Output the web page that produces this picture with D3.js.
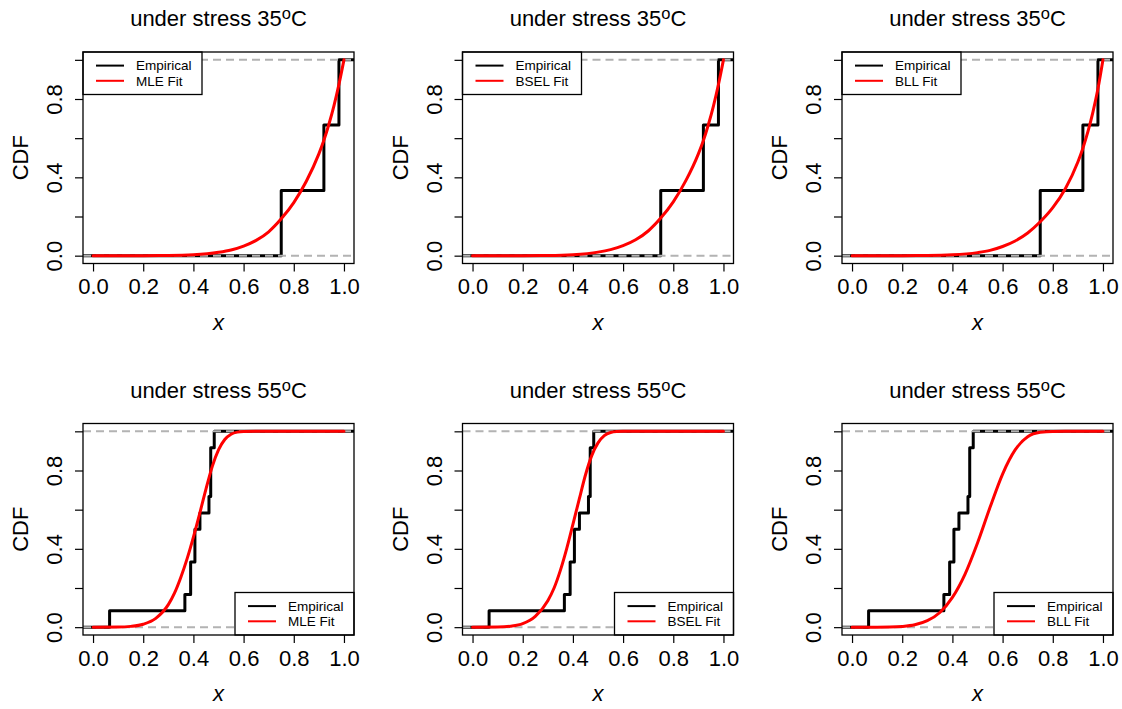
<!DOCTYPE html>
<html>
<head>
<meta charset="utf-8">
<script src="https://cdn.jsdelivr.net/npm/d3@7"></script>
<style>
  body { margin: 0; background: #fff; }
  text { font-family: "Liberation Sans", Arial, Helvetica, sans-serif; fill: #000; }
</style>
</head>
<body>
<svg id="chart" width="1122" height="709"></svg>
<script>
// ---- data -------------------------------------------------------------
const xTicks = [0, 0.2, 0.4, 0.6, 0.8, 1.0];
const xTickLabels = ["0.0", "0.2", "0.4", "0.6", "0.8", "1.0"];
const yTicks = [0, 0.2, 0.4, 0.6, 0.8, 1.0];
const yTickLabels = ["0.0", "", "0.4", "", "0.8", ""];

const stressLevels = ["35", "55"];
const methods = ["MLE", "BSEL", "BLL"];

// observed (scaled) failure times at each stress level
const failures35 = [0.75, 0.92, 0.98];
const failures55 = [0.066, 0.366, 0.389, 0.389, 0.406, 0.406, 0.426, 0.462, 0.469, 0.469, 0.469, 0.483];

// fitted CDF curves, 35 degrees
const gridX35 = [0, 0.1, 0.2, 0.3, 0.4, 0.5, 0.55, 0.6, 0.65, 0.7, 0.75, 0.8, 0.85, 0.9, 0.92, 0.94, 0.96, 0.98, 1.0];
const fitMLE35  = [0, 0, 0.0001, 0.0008, 0.0045, 0.017, 0.029, 0.049, 0.078, 0.122, 0.188, 0.271, 0.38, 0.52, 0.589, 0.671, 0.765, 0.875, 1.0];
const fitBSEL35 = [0, 0, 0.0001, 0.0009, 0.005, 0.018, 0.031, 0.051, 0.081, 0.126, 0.192, 0.275, 0.383, 0.52, 0.588, 0.67, 0.764, 0.874, 1.0];
const fitBLL35  = [0, 0, 0.0001, 0.0007, 0.0041, 0.0156, 0.027, 0.0467, 0.075, 0.116, 0.173, 0.245, 0.342, 0.478, 0.549, 0.633, 0.733, 0.852, 1.0];

// fitted CDF curves, 55 degrees
const gridX55 = [0, 0.1, 0.15, 0.2, 0.25, 0.3, 0.325, 0.35, 0.375, 0.4, 0.425, 0.45, 0.475, 0.5, 0.525, 0.55, 0.575, 0.6, 0.65, 0.7, 0.75, 0.8, 0.85, 0.9, 1.0];
const fitMLE55  = [0, 0.0005, 0.004, 0.015, 0.045, 0.115, 0.175, 0.255, 0.35, 0.46, 0.58, 0.705, 0.82, 0.905, 0.958, 0.985, 0.996, 0.999, 1, 1, 1, 1, 1, 1, 1];
const fitBSEL55 = [0, 0.0006, 0.005, 0.018, 0.055, 0.135, 0.2, 0.29, 0.4, 0.525, 0.652, 0.777, 0.876, 0.941, 0.978, 0.994, 0.999, 1, 1, 1, 1, 1, 1, 1, 1];
const gridXBLL55 = [0, 0.1, 0.15, 0.2, 0.25, 0.3, 0.35, 0.4, 0.45, 0.5, 0.55, 0.6, 0.65, 0.7, 0.75, 0.8, 0.85, 0.9, 1.0];
const fitBLL55  = [0, 0.0001, 0.0007, 0.0035, 0.012, 0.033, 0.075, 0.152, 0.27, 0.43, 0.612, 0.782, 0.905, 0.972, 0.995, 0.9997, 1, 1, 1];

// ---- layout -----------------------------------------------------------
const colLeft = [83, 462.5, 842];
const rowTop = [52, 423.5];
const boxW = 271, boxH = 211.5;
const pad = 0.04;
const bigFont = 22;

const panels = [
  { row: 0, col: 0, obs: failures35, fx: gridX35, fy: fitMLE35,  method: methods[0], legend: "topleft" },
  { row: 0, col: 1, obs: failures35, fx: gridX35, fy: fitBSEL35, method: methods[1], legend: "topleft" },
  { row: 0, col: 2, obs: failures35, fx: gridX35, fy: fitBLL35,  method: methods[2], legend: "topleft" },
  { row: 1, col: 0, obs: failures55, fx: gridX55, fy: fitMLE55,  method: methods[0], legend: "bottomright" },
  { row: 1, col: 1, obs: failures55, fx: gridX55, fy: fitBSEL55, method: methods[1], legend: "bottomright" },
  { row: 1, col: 2, obs: failures55, fx: gridXBLL55, fy: fitBLL55, method: methods[2], legend: "bottomright" }
];

const svg = d3.select("#chart");
svg.append("rect").attr("width", 1122).attr("height", 709).attr("fill", "#fff");

panels.forEach((p, idx) => {
  const left = colLeft[p.col], top = rowTop[p.row];
  const x = d3.scaleLinear().domain([-pad, 1 + pad]).range([left, left + boxW]);
  const y = d3.scaleLinear().domain([-pad, 1 + pad]).range([top + boxH, top]);
  const g = svg.append("g");

  const clipId = "clip" + idx;
  g.append("clipPath").attr("id", clipId)
    .append("rect").attr("x", left).attr("y", top).attr("width", boxW).attr("height", boxH);
  const plot = g.append("g").attr("clip-path", `url(#${clipId})`);

  // empirical CDF as a right-continuous step function
  const sorted = p.obs.slice().sort(d3.ascending);
  const n = sorted.length;
  const uniq = Array.from(new Set(sorted));
  const steps = [[-0.2, 0]].concat(uniq.map(v => [v, d3.bisectRight(sorted, v) / n])).concat([[1.2, 1]]);
  const stepLine = d3.line().x(d => x(d[0])).y(d => y(d[1])).curve(d3.curveStepAfter);
  plot.append("path").attr("d", stepLine(steps))
    .attr("fill", "none").attr("stroke", "#000").attr("stroke-width", 3)
    .attr("stroke-linejoin", "round").attr("stroke-linecap", "round");

  // reference lines at 0 and 1
  [0, 1].forEach(h => {
    plot.append("line")
      .attr("x1", left).attr("x2", left + boxW)
      .attr("y1", y(h)).attr("y2", y(h))
      .attr("stroke", "#b3b3b3").attr("stroke-width", 2)
      .attr("stroke-dasharray", "8,5");
  });

  // fitted CDF
  const fitPts = p.fx.map((v, i) => [v, p.fy[i]]);
  const fitLine = d3.line().x(d => x(d[0])).y(d => y(d[1])).curve(d3.curveMonotoneX);
  plot.append("path").attr("d", fitLine(fitPts))
    .attr("fill", "none").attr("stroke", "#ff0000").attr("stroke-width", 3)
    .attr("stroke-linecap", "round");

  // legend
  const lgW = 119, lgH = 42.5;
  const lgX = p.legend === "topleft" ? left : left + boxW - lgW;
  const lgY = p.legend === "topleft" ? top : top + boxH - lgH;
  const lg = g.append("g").attr("transform", `translate(${lgX},${lgY})`);
  lg.append("rect").attr("width", lgW).attr("height", lgH)
    .attr("fill", "#fff").attr("stroke", "#000").attr("stroke-width", 1.3);
  const entries = [
    { label: "Empirical", color: "#000" },
    { label: p.method + " Fit", color: "#ff0000" }
  ];
  entries.forEach((e, i) => {
    const ly = 13.6 + i * 15.2;
    lg.append("line").attr("x1", 13).attr("x2", 41).attr("y1", ly).attr("y2", ly)
      .attr("stroke", e.color).attr("stroke-width", 2);
    lg.append("text").attr("x", 53).attr("y", ly).attr("dy", "0.35em")
      .attr("font-size", 13.5).text(e.label);
  });

  // plot frame
  g.append("rect").attr("x", left).attr("y", top).attr("width", boxW).attr("height", boxH)
    .attr("fill", "none").attr("stroke", "#000").attr("stroke-width", 1.3);

  // x axis
  const xAxis = d3.axisBottom(x).tickValues(xTicks)
    .tickFormat((d, i) => xTickLabels[i]).tickSize(8).tickPadding(7);
  const gx = g.append("g").attr("transform", `translate(0,${top + boxH})`).call(xAxis);
  gx.select(".domain").remove();
  gx.selectAll("line").attr("stroke", "#000").attr("stroke-width", 1.2);
  gx.selectAll("text").attr("font-size", bigFont).attr("font-family", null);

  // y axis (labels rotated, as in base graphics)
  const yAxis = d3.axisLeft(y).tickValues(yTicks)
    .tickFormat((d, i) => yTickLabels[i]).tickSize(8);
  const gy = g.append("g").attr("transform", `translate(${left},0)`).call(yAxis);
  gy.select(".domain").remove();
  gy.selectAll("line").attr("stroke", "#000").attr("stroke-width", 1.2);
  gy.selectAll("text")
    .attr("x", null).attr("dy", null)
    .attr("font-size", bigFont).attr("font-family", null)
    .attr("text-anchor", "middle")
    .attr("transform", "translate(-21,0) rotate(-90)");

  // titles and axis labels
  const cx = left + boxW / 2;
  const title = g.append("text").attr("x", cx).attr("y", top - 26)
    .attr("text-anchor", "middle").attr("font-size", bigFont);
  title.append("tspan").text("under stress " + stressLevels[p.row]);
  title.append("tspan").attr("font-size", 16.5).attr("dy", -7).text("o");
  title.append("tspan").attr("dy", 7).text("C");

  g.append("text").attr("x", cx).attr("y", top + boxH + 66)
    .attr("text-anchor", "middle").attr("font-size", bigFont).attr("font-style", "italic").text("x");

  g.append("text").attr("transform", `translate(${left - 55},${top + boxH / 2}) rotate(-90)`)
    .attr("text-anchor", "middle").attr("font-size", bigFont).text("CDF");
});
</script>
</body>
</html>
